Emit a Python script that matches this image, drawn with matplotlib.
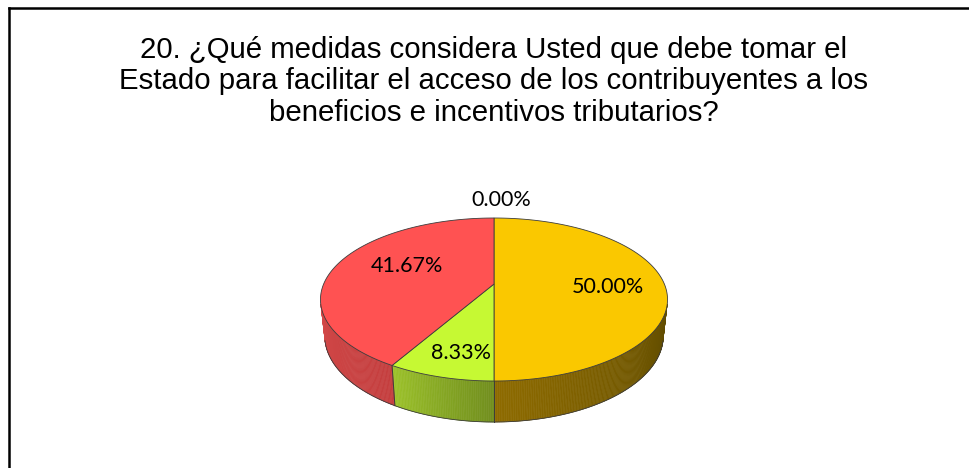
import numpy as np
import matplotlib
matplotlib.use("Agg")
import matplotlib.pyplot as plt
from matplotlib.patches import Polygon
from matplotlib.lines import Line2D
from matplotlib.colors import to_rgb

# ---------------- data ----------------
title = ("20. ¿Qué medidas considera Usted que debe tomar el\n"
         "Estado para facilitar el acceso de los contribuyentes a los\n"
         "beneficios e incentivos tributarios?")
categories = ["Medida 1", "Medida 2", "Medida 3", "Medida 4"]
values = [50.00, 8.33, 41.67, 0.00]
value_labels = ["50.00%", "8.33%", "41.67%", "0.00%"]

# ---------------- style ----------------
top_colors = ["#FAC800", "#C6F933", "#FF5252", "#4F81BD"]
side_grad = [("#5F4B00", "#8E6B00"),   # colour at visible start / end angle
             ("#718E1E", "#9CC22A"),
             ("#C43E3E", "#D24848"),
             ("#3A5F8C", "#3A5F8C")]
edge_col = "#3C3C3C"

W, Hh = 969, 468
fig = plt.figure(figsize=(W / 100, Hh / 100), dpi=100)
ax = fig.add_axes([0, 0, 1, 1])
ax.set_xlim(0, W)
ax.set_ylim(Hh, 0)
ax.axis("off")

# camera / projection for 3-D pie
PHI = np.radians(27.46)
DIST = 4.665
SCALE = 794.7
THICK = 0.2416
CX, CY = 494.0, 284.0
cphi, sphi = np.cos(PHI), np.sin(PHI)


def proj(x, y, z):
    d = DIST + y * cphi - z * sphi
    sx = x / d
    sy = (y * sphi + z * cphi) / d
    return CX + SCALE * sx, CY - SCALE * sy


def ring(theta_deg, r=1.0, z=0.0):
    t = np.radians(theta_deg)
    return proj(r * np.sin(t), r * np.cos(t), z)


total = float(sum(values))
bounds = np.concatenate([[0], np.cumsum(values)]) / total * 360.0

# visible wall range (front-facing)
cmax = -1.0 / (DIST * cphi)
vis_lo = np.degrees(np.arccos(cmax))
vis_hi = 360 - vis_lo

# ---- side walls ----
for i in range(len(values)):
    a0, a1 = bounds[i], bounds[i + 1]
    lo, hi = max(a0, vis_lo), min(a1, vis_hi)
    if hi <= lo:
        continue
    c0, c1 = np.array(to_rgb(side_grad[i][0])), np.array(to_rgb(side_grad[i][1]))
    n = max(int((hi - lo) * 2), 2)
    ts = np.linspace(lo, hi, n + 1)
    for k in range(n):
        ta, tb = ts[k], ts[k + 1]
        f = (0.5 * (ta + tb) - lo) / (hi - lo)
        col = c0 + (c1 - c0) * f
        xa, ya = ring(ta)
        xb, yb = ring(tb)
        xa2, ya2 = ring(ta, z=-THICK)
        xb2, yb2 = ring(tb, z=-THICK)
        ax.add_patch(Polygon([[xa, ya], [xb, yb], [xb2, yb2], [xa2, ya2]],
                             closed=True, facecolor=col, edgecolor=col,
                             linewidth=0.4, zorder=2))
for b in bounds:
    if vis_lo < b < vis_hi:
        x1, y1 = ring(b)
        x2, y2 = ring(b, z=-THICK)
        ax.add_line(Line2D([x1, x2], [y1, y2], color=edge_col, lw=0.7, zorder=3))
tb_ = np.linspace(vis_lo, vis_hi, 200)
bx, by = ring(tb_, z=-THICK)
ax.plot(bx, by, color=edge_col, lw=0.6, zorder=3)

# ---- top faces ----
for i in range(len(values)):
    a0, a1 = bounds[i], bounds[i + 1]
    if a1 - a0 <= 0:
        continue
    ts = np.linspace(a0, a1, max(int(a1 - a0) + 2, 3))
    xs, ys = ring(ts)
    pts = [[CX, CY]] + list(zip(xs, ys))
    ax.add_patch(Polygon(pts, closed=True, facecolor=top_colors[i],
                         edgecolor=edge_col, linewidth=0.6, zorder=4))

# ---- labels ----
label_r = [0.66, 0.74, 0.543, 1.30]
label_off = [(1, 3), (5, 4), (0, -7), (7, -2)]
for i in range(len(values)):
    m = 0.5 * (bounds[i] + bounds[i + 1])
    lx, ly = ring(m, r=label_r[i])
    ax.text(lx + label_off[i][0], ly + label_off[i][1], value_labels[i],
            ha="center", va="center", fontsize=15.5, family=["Lato", "DejaVu Sans"],
            color="black", zorder=6)

# ---- title ----
ax.text(494, 121, title, ha="center", va="baseline", fontsize=21.2,
        family=["Liberation Sans", "DejaVu Sans"], linespacing=1.17,
        color="black", zorder=6)

# ---- chart frame ----
ax.add_line(Line2D([9.5, 9.5], [8, Hh + 5], color="black", lw=1.8, zorder=7))
ax.add_line(Line2D([9.5, W + 5], [8, 8], color="black", lw=1.8, zorder=7))

fig.savefig("out.png", dpi=100)
